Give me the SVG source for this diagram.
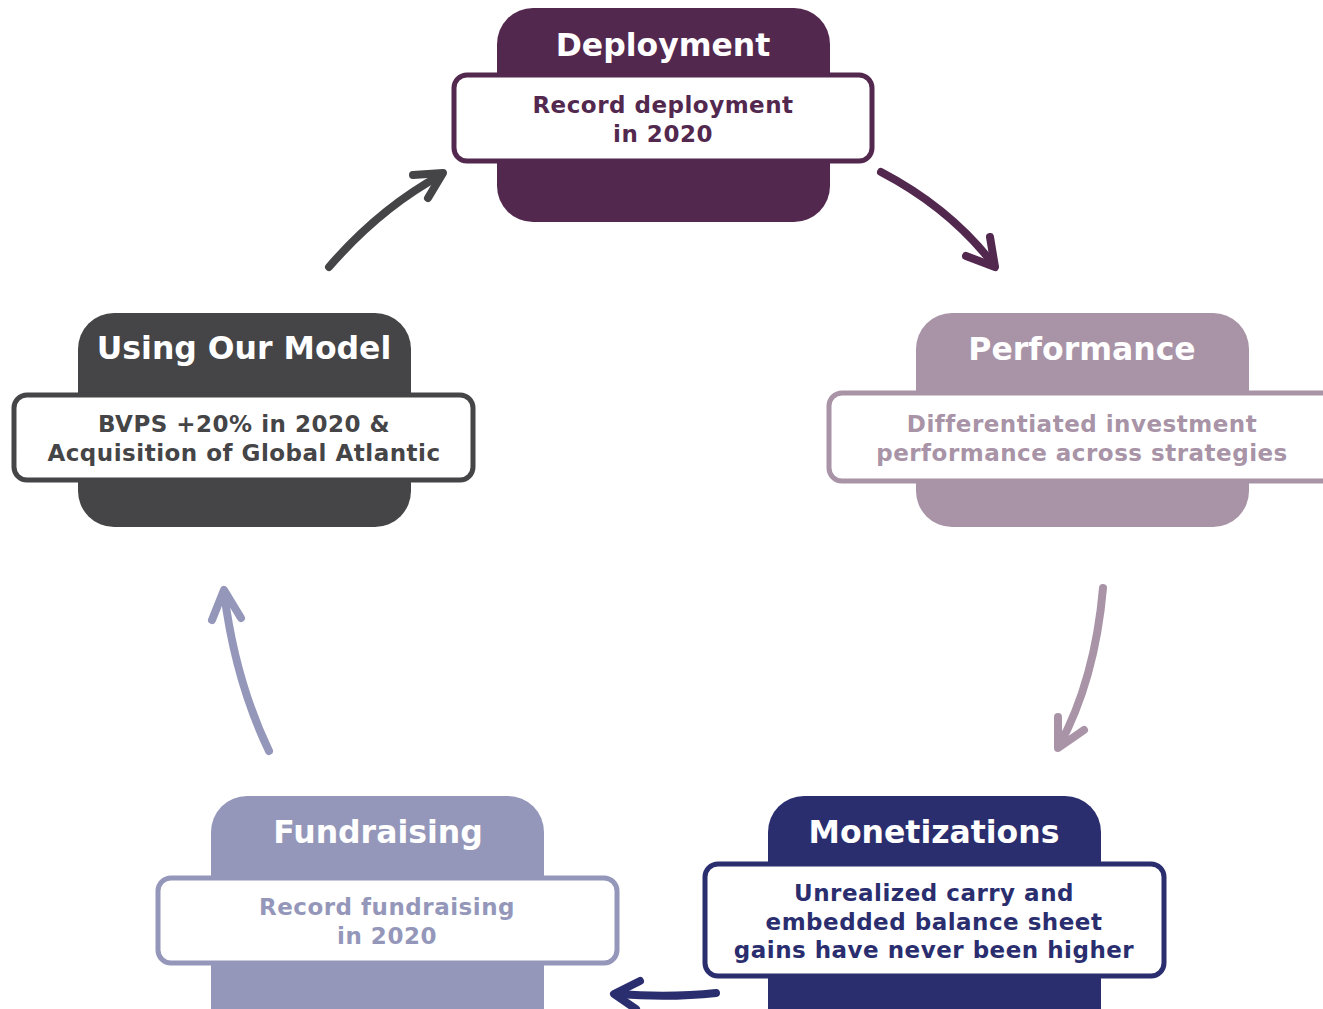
<svg xmlns="http://www.w3.org/2000/svg" width="1323" height="1009" viewBox="0 0 1323 1009">
<style>
text{font-family:"DejaVu Sans","Verdana",sans-serif;font-weight:bold;text-anchor:middle}
.t{font-size:31.5px;fill:#fff}
.s{font-size:23px;letter-spacing:0.5px}
.w{fill:#fff;stroke-width:5}
.a{fill:none;stroke-width:8;stroke-linecap:round;stroke-linejoin:round}
</style>
<rect width="1323" height="1009" fill="#fff"/>
<g id="deployment">
<rect x="497" y="8" width="333" height="214" rx="36" fill="#53284F"/>
<text class="t" x="663" y="56">Deployment</text>
<rect class="w" x="454" y="75" width="418" height="86" rx="13" stroke="#53284F"/>
<text class="s" fill="#53284F" x="663" y="113">Record deployment</text>
<text class="s" fill="#53284F" x="663" y="142">in 2020</text>
</g>
<g id="performance">
<rect x="916" y="313" width="333" height="214" rx="36" fill="#A893A7"/>
<text class="t" x="1082" y="360">Performance</text>
<rect class="w" x="829" y="393" width="520" height="88" rx="13" stroke="#A893A7"/>
<text class="s" fill="#A893A7" x="1082" y="432">Differentiated investment</text>
<text class="s" fill="#A893A7" x="1082" y="461">performance across strategies</text>
</g>
<g id="monetizations">
<rect x="768" y="796" width="333" height="250" rx="36" fill="#2A2E6F"/>
<text class="t" x="934" y="843">Monetizations</text>
<rect class="w" x="705" y="864" width="459" height="112" rx="13" stroke="#2A2E6F"/>
<text class="s" fill="#2A2E6F" x="934" y="901">Unrealized carry and</text>
<text class="s" fill="#2A2E6F" x="934" y="930">embedded balance sheet</text>
<text class="s" fill="#2A2E6F" x="934" y="958">gains have never been higher</text>
</g>
<g id="fundraising">
<rect x="211" y="796" width="333" height="250" rx="36" fill="#9497BA"/>
<text class="t" x="378" y="843">Fundraising</text>
<rect class="w" x="158" y="878" width="459" height="85" rx="13" stroke="#9497BA"/>
<text class="s" fill="#9497BA" x="387" y="915">Record fundraising</text>
<text class="s" fill="#9497BA" x="387" y="944">in 2020</text>
</g>
<g id="using-our-model">
<rect x="78" y="313" width="333" height="214" rx="36" fill="#454547"/>
<text class="t" x="244" y="359">Using Our Model</text>
<rect class="w" x="14" y="395" width="459" height="85" rx="13" stroke="#454547"/>
<text class="s" fill="#454547" x="244" y="432">BVPS +20% in 2020 &amp;</text>
<text class="s" fill="#454547" x="244" y="461">Acquisition of Global Atlantic</text>
</g>
<g id="connectors">
<path class="a" stroke="#454547" d="M329,267 Q380,208 441,175"/>
<path class="a" stroke="#454547" d="M413,175 L443,173 L428,198"/>
<path class="a" stroke="#53284F" d="M881,172 Q950,208 994,265"/>
<path class="a" stroke="#53284F" d="M966,256 L995,267 L990,237"/>
<path class="a" stroke="#A893A7" d="M1103,588 Q1095,680 1059,746"/>
<path class="a" stroke="#A893A7" d="M1058,717 L1058,748 L1084,730"/>
<path class="a" stroke="#2A2E6F" d="M716,993 Q670,998 617,994"/>
<path class="a" stroke="#2A2E6F" d="M640,981 L614,994 L636,1009"/>
<path class="a" stroke="#9497BA" d="M269,751 Q235,680 224,592"/>
<path class="a" stroke="#9497BA" d="M212,620 L224,590 L241,618"/>
</g>
</svg>
